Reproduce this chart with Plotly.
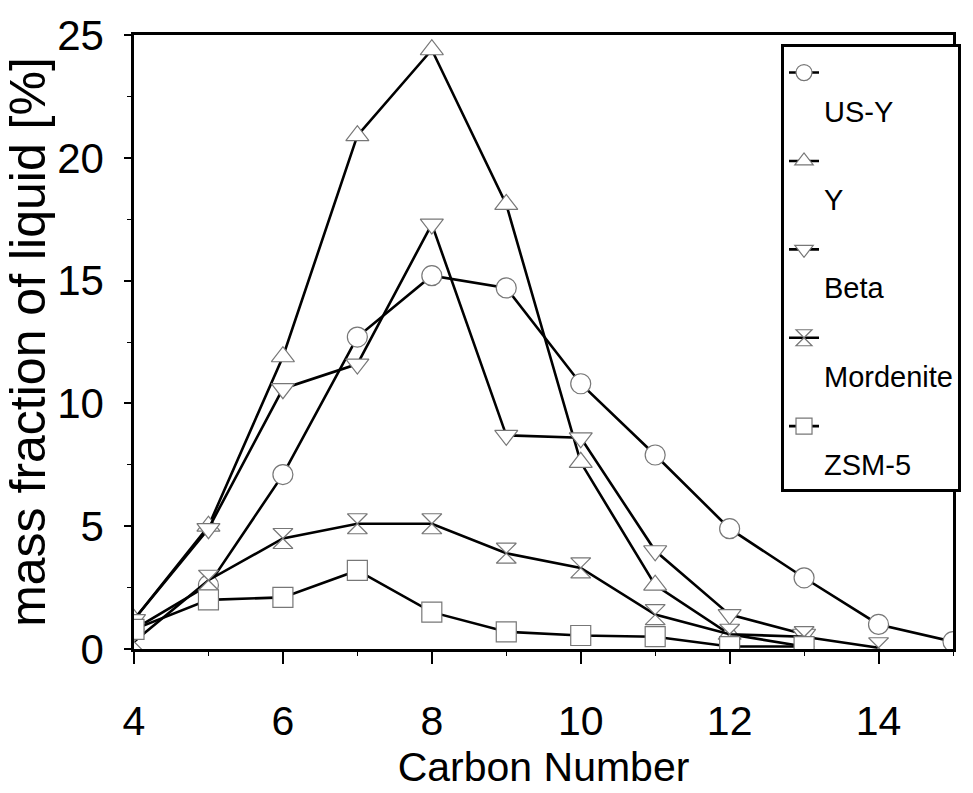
import plotly.graph_objects as go

carbon = [4, 5, 6, 7, 8, 9, 10, 11, 12, 13, 14, 15]
us_y = [0.8, 2.6, 7.1, 12.7, 15.2, 14.7, 10.8, 7.9, 4.9, 2.9, 1.0, 0.3]
y_zeo = [1.2, 5.0, 11.9, 20.9, 24.4, 18.1, 7.6, 2.6, 0.6, 0.1]
beta = [1.2, 4.9, 10.6, 11.6, 17.3, 8.7, 8.6, 4.0, 1.4, 0.6]
mordenite = [0.3, 2.8, 4.5, 5.1, 5.1, 3.9, 3.3, 1.4, 0.6, 0.5, 0.05]
zsm5 = [0.8, 2.0, 2.1, 3.2, 1.5, 0.7, 0.55, 0.5, 0.1, 0.1]

series = [
    ("US-Y", us_y, "circle"),
    ("Y", y_zeo, "triangle-up"),
    ("Beta", beta, "triangle-down"),
    ("Mordenite", mordenite, "hourglass"),
    ("ZSM-5", zsm5, "square"),
]

FONT = "Liberation Sans Narrow, Arial Narrow, Liberation Sans, Arial, sans-serif"

fig = go.Figure()
for name, vals, sym in series:
    fig.add_trace(go.Scatter(
        x=carbon[:len(vals)], y=vals, name="<br>" + name,
        legendgroup=name,
        mode="lines+markers",
        line=dict(color="black", width=2.6),
        marker=dict(symbol=sym, size=20, color="white",
                    line=dict(color="#777777", width=1.2)),
    ))

axis_common = dict(showline=True, linecolor="black", linewidth=2.5,
                   showgrid=False, zeroline=False, mirror=True)

fig.update_layout(
    width=973, height=793,
    margin=dict(l=134, r=12, t=33, b=143),
    paper_bgcolor="white", plot_bgcolor="white",
    font=dict(family=FONT, color="black"),
    xaxis=dict(range=[4, 15], tickvals=[4, 6, 8, 10, 12, 14],
               ticks="outside", ticklen=12, tickwidth=1.5, tickcolor="black",
               minor=dict(dtick=1, tick0=4, ticks="outside", ticklen=4, tickcolor="black", tickwidth=1),
               tickfont=dict(size=41), ticklabelstandoff=22,
               title=dict(text="Carbon Number", font=dict(size=41), standoff=8),
               **axis_common),
    yaxis=dict(range=[0, 25], tickvals=[0, 5, 10, 15, 20, 25],
               ticks="outside", ticklen=7, tickwidth=1.5, tickcolor="black",
               minor=dict(dtick=2.5, ticks="outside", ticklen=4, tickcolor="black", tickwidth=1),
               tickfont=dict(size=42), ticklabelstandoff=12,
               title=dict(text="mass fraction of liquid [%]", font=dict(size=50), standoff=10),
               **axis_common),
    xaxis2=dict(overlaying="x", range=[4, 15], tickvals=[4, 6, 8, 10, 12, 14],
                ticks="inside", ticklen=10, tickwidth=1.5, tickcolor="black",
                minor=dict(dtick=1, tick0=4, ticks="inside", ticklen=4, tickcolor="black", tickwidth=1),
                showticklabels=False, showgrid=False, zeroline=False, side="bottom",
                showline=False),
    yaxis2=dict(overlaying="y", range=[0, 25], tickvals=[0, 5, 10, 15, 20, 25],
                ticks="inside", ticklen=7, tickwidth=1.5, tickcolor="black",
                minor=dict(dtick=2.5, ticks="inside", ticklen=4, tickcolor="black", tickwidth=1),
                showticklabels=False, showgrid=False, zeroline=False, side="left",
                showline=False),
    legend=dict(x=0.79, y=0.985, xanchor="left", yanchor="top",
                bgcolor="white", bordercolor="black", borderwidth=3,
                font=dict(size=29, family=FONT), valign="top",
                itemwidth=30, tracegroupgap=10),
    showlegend=True,
)

fig.write_html("out.html")
